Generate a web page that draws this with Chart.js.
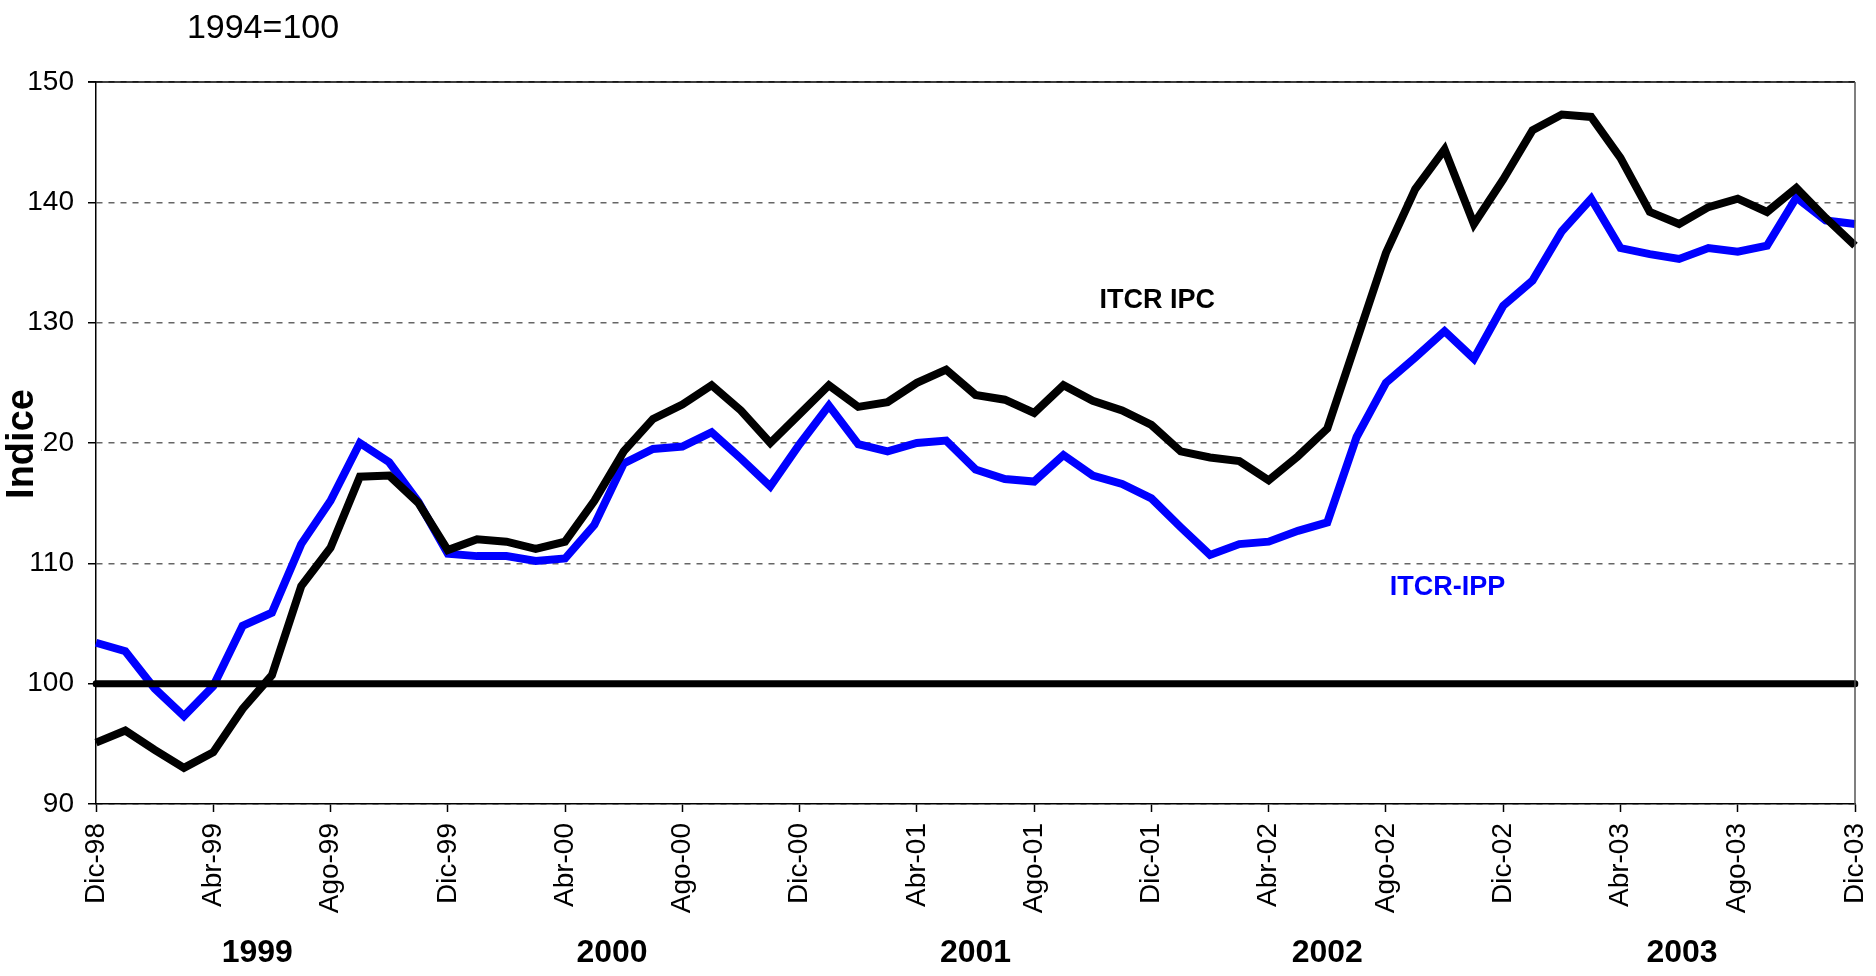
<!DOCTYPE html>
<html>
<head>
<meta charset="utf-8">
<script src="https://cdn.jsdelivr.net/npm/chart.js@4"></script>
<style>
  body { margin: 0; background: #fff; }
  canvas { display: block; }
</style>
</head>
<body>
<canvas id="myChart" width="1876" height="976"></canvas>
<script>
// month labels, Dic-98 .. Dic-03
const labels = [
  "Dic-98", "Ene-99", "Feb-99", "Mar-99", "Abr-99", "May-99", "Jun-99", "Jul-99", "Ago-99", "Sep-99", "Oct-99", "Nov-99",
  "Dic-99", "Ene-00", "Feb-00", "Mar-00", "Abr-00", "May-00", "Jun-00", "Jul-00", "Ago-00", "Sep-00", "Oct-00", "Nov-00",
  "Dic-00", "Ene-01", "Feb-01", "Mar-01", "Abr-01", "May-01", "Jun-01", "Jul-01", "Ago-01", "Sep-01", "Oct-01", "Nov-01",
  "Dic-01", "Ene-02", "Feb-02", "Mar-02", "Abr-02", "May-02", "Jun-02", "Jul-02", "Ago-02", "Sep-02", "Oct-02", "Nov-02",
  "Dic-02", "Ene-03", "Feb-03", "Mar-03", "Abr-03", "May-03", "Jun-03", "Jul-03", "Ago-03", "Sep-03", "Oct-03", "Nov-03",
  "Dic-03"
];

// ITCR IPC (black)
const itcrIpc = [
  95.1, 96.1, 94.5, 93.0, 94.3, 97.9, 100.7, 108.1, 111.3, 117.2, 117.3, 115.0,
  111.1, 112.0, 111.8, 111.2, 111.8, 115.2, 119.3, 122.0, 123.2, 124.8, 122.7, 120.0,
  122.4, 124.8, 123.0, 123.4, 125.0, 126.1, 124.0, 123.6, 122.5, 124.8, 123.5, 122.7,
  121.5, 119.3, 118.8, 118.5, 116.9, 118.9, 121.2, 128.5, 135.8, 141.1, 144.4, 138.2,
  141.9, 146.0, 147.3, 147.1, 143.7, 139.2, 138.2, 139.6, 140.3, 139.2, 141.2, 138.7,
  136.4
];

// ITCR-IPP (blue)
const itcrIpp = [
  103.4, 102.7, 99.6, 97.3, 99.8, 104.8, 105.9, 111.6, 115.2, 120.0, 118.4, 115.1,
  110.8, 110.6, 110.6, 110.2, 110.4, 113.2, 118.3, 119.5, 119.7, 120.9, 118.7, 116.4,
  119.9, 123.1, 119.9, 119.3, 120.0, 120.2, 117.8, 117.0, 116.8, 119.0, 117.3, 116.6,
  115.4, 113.0, 110.7, 111.6, 111.8, 112.7, 113.4, 120.5, 125.0, 127.1, 129.3, 127.0,
  131.4, 133.5, 137.6, 140.3, 136.2, 135.7, 135.3, 136.2, 135.9, 136.4, 140.4, 138.5,
  138.2
];

const baseValue = 100;

// year captions under the axis, at (fractional) month positions
const years = ["1999", "2000", "2001", "2002", "2003"];
const yearPos = [5.5, 17.6, 30.0, 42.0, 54.1];

const FONT = "'Liberation Sans', Arial, Helvetica, sans-serif";
Chart.defaults.font.family = FONT;
Chart.defaults.color = "#000";

// extra text + frame drawn on top
const decorations = {
  id: "decorations",
  afterDraw(chart) {
    const ctx = chart.ctx;
    const area = chart.chartArea;
    const x = chart.scales.x;
    const y = chart.scales.y;
    ctx.save();

    // top and right frame lines
    ctx.strokeStyle = "#000";
    ctx.lineWidth = 1.5;
    ctx.beginPath();
    ctx.moveTo(area.left - 8, area.top);
    ctx.lineTo(area.right, area.top);
    ctx.stroke();
    ctx.strokeStyle = "#555";
    ctx.beginPath();
    ctx.moveTo(area.right, area.top);
    ctx.lineTo(area.right, area.bottom);
    ctx.stroke();

    // year labels
    ctx.fillStyle = "#000";
    ctx.font = "bold 32px " + FONT;
    ctx.textAlign = "center";
    ctx.textBaseline = "middle";
    years.forEach((yr, i) => {
      ctx.fillText(yr, x.getPixelForValue(yearPos[i]), 953);
    });

    // series labels
    ctx.font = "bold 27px " + FONT;
    ctx.fillText("ITCR IPC", x.getPixelForValue(36.2), y.getPixelForValue(131.8));
    ctx.fillStyle = "#0000ff";
    ctx.fillText("ITCR-IPP", x.getPixelForValue(46.1), y.getPixelForValue(108.0));

    // base note
    ctx.fillStyle = "#000";
    ctx.font = "34px " + FONT;
    ctx.fillText("1994=100", 263, 29);

    // y axis title (covers the tick label behind it, as in the original)
    ctx.fillStyle = "#fff";
    ctx.fillRect(4, 386, 37, 116);
    ctx.translate(23, 444);
    ctx.rotate(-Math.PI / 2);
    ctx.fillStyle = "#000";
    ctx.font = "bold 38px " + FONT;
    ctx.fillText("Indice", 0, 0);
    ctx.restore();
  }
};

const data = {
  labels: labels,
  datasets: [
    {
      label: "1994=100",
      data: [{ x: labels[0], y: baseValue }, { x: labels[labels.length - 1], y: baseValue }],
      borderColor: "#000",
      borderWidth: 7,
      borderCapStyle: "round",
      pointRadius: 0,
    },
    {
      label: "ITCR IPC",
      data: itcrIpc,
      borderColor: "#000",
      borderWidth: 8,
      pointRadius: 0,
      tension: 0,
    },
    {
      label: "ITCR-IPP",
      data: itcrIpp,
      borderColor: "#0000ff",
      borderWidth: 8,
      pointRadius: 0,
      tension: 0,
    },
  ],
};

const config = {
  type: "line",
  data,
  options: {
    responsive: false,
    animation: false,
    layout: { padding: { top: 82, right: 21, bottom: 0, left: 0 } },
    plugins: {
      legend: { display: false },
      tooltip: { enabled: false },
    },
    scales: {
      x: {
        offset: false,
        afterFit(scale) {
          scale.height = 172;
          scale.paddingLeft = 0;
          scale.paddingRight = 0;
        },
        grid: {
          drawOnChartArea: false,
          drawTicks: true,
          tickLength: 8,
          tickWidth: 1.5,
          tickColor: (c) => (c.index % 4 === 0 ? "#000" : "rgba(0,0,0,0)"),
        },
        border: { color: "#000", width: 1.5 },
        ticks: {
          autoSkip: false,
          minRotation: 90,
          maxRotation: 90,
          padding: 11,
          font: { size: 28 },
          color: "#000",
          callback: (v, i) => (i % 4 === 0 ? labels[i] : ""),
        },
      },
      y: {
        min: 90,
        max: 150,
        afterFit(scale) { scale.width = 96; },
        grid: {
          color: "#666",
          lineWidth: 1.5,
          tickColor: "#000",
          tickLength: 8,
          tickWidth: 1.5,
          tickBorderDash: [],
        },
        border: { color: "#000", width: 1.5, dash: [6, 6] },
        ticks: {
          stepSize: 10,
          padding: 14,
          font: { size: 28 },
          color: "#000",
        },
      },
    },
  },
  plugins: [decorations],
};

const myChart = new Chart(document.getElementById("myChart"), config);
</script>
</body>
</html>
